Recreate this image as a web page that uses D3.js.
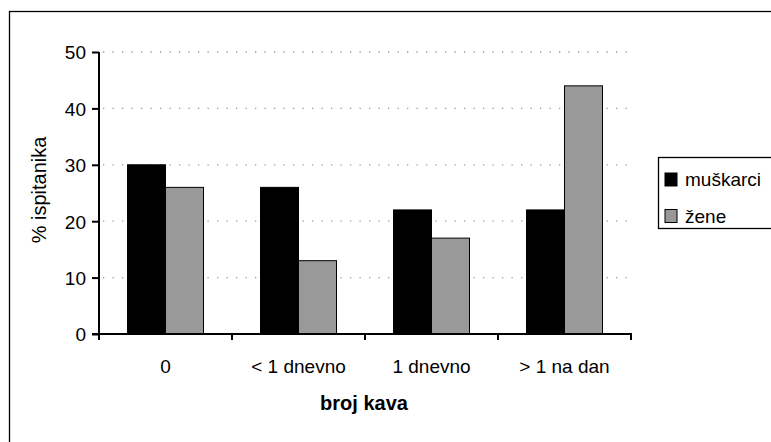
<!DOCTYPE html>
<html>
<head>
<meta charset="utf-8">
<script src="https://cdn.jsdelivr.net/npm/d3@7"></script>
<style>
  body { margin: 0; background: #fff; }
  text { font-family: "Liberation Sans", Arial, sans-serif; fill: #000; }
</style>
</head>
<body>
<div id="chart"></div>
<script>
var categories = ["0", "< 1 dnevno", "1 dnevno", "> 1 na dan"];
var seriesNames = ["muškarci", "žene"];
var muskarci = [30, 26, 22, 22];
var zene = [26, 13, 17, 44];
var yTicks = [0, 10, 20, 30, 40, 50];

var colors = ["#000000", "#999999"];

var svg = d3.select("#chart").append("svg")
  .attr("width", 771)
  .attr("height", 442);

// outer frame (runs past the right / bottom edge)
svg.append("rect")
  .attr("x", 9.5).attr("y", 11.5)
  .attr("width", 800).attr("height", 500)
  .attr("fill", "#fff")
  .attr("stroke", "#000")
  .attr("stroke-width", 1.3);

var margin = {left: 99, top: 52},
    width = 532, height = 282;

var x = d3.scaleBand().domain(categories).range([0, width]);
var y = d3.scaleLinear().domain([0, 50]).range([height, 0]);

var g = svg.append("g")
  .attr("transform", "translate(" + margin.left + "," + margin.top + ")");

// dotted grid
g.selectAll("line.grid")
  .data(yTicks.filter(function(d) { return d > 0; }))
  .enter().append("line")
  .attr("class", "grid")
  .attr("x1", 4).attr("x2", width)
  .attr("y1", function(d) { return y(d); })
  .attr("y2", function(d) { return y(d); })
  .attr("stroke", "#999")
  .attr("stroke-width", 1.3)
  .attr("stroke-dasharray", "1.3,8.2");

// bars
var barW = 38;
var data = categories.map(function(c, i) {
  return [muskarci[i], zene[i]];
});
var groups = g.selectAll("g.cat")
  .data(data)
  .enter().append("g")
  .attr("transform", function(d, i) {
    return "translate(" + (x(categories[i]) + (x.bandwidth() - 2 * barW) / 2) + ",0)";
  });

groups.selectAll("rect")
  .data(function(d) { return d; })
  .enter().append("rect")
  .attr("x", function(d, j) { return j * barW; })
  .attr("y", function(d) { return y(d); })
  .attr("width", barW)
  .attr("height", function(d) { return height - y(d); })
  .attr("fill", function(d, j) { return colors[j]; })
  .attr("stroke", "#000")
  .attr("stroke-width", 1);

// y axis
var yAxis = d3.axisLeft(y).tickValues(yTicks).tickSize(7).tickPadding(6);
var yG = g.append("g").call(yAxis);
yG.select(".domain").attr("stroke-width", 2).attr("d", "M0," + height + "V0");
yG.selectAll(".tick line").attr("stroke-width", 2);
yG.selectAll(".tick text").style("font-size", "19px").attr("dy", "0.36em");

// x axis with ticks at category boundaries
var xG = g.append("g").attr("transform", "translate(0," + height + ")");
xG.append("line")
  .attr("x1", -7).attr("x2", width + 1)
  .attr("stroke", "#000").attr("stroke-width", 2);
var bounds = categories.map(function(c) { return x(c); }).concat([width]);
xG.selectAll("line.tk")
  .data(bounds)
  .enter().append("line")
  .attr("class", "tk")
  .attr("x1", function(d) { return d; })
  .attr("x2", function(d) { return d; })
  .attr("y1", 0).attr("y2", 6)
  .attr("stroke", "#000").attr("stroke-width", 2);
xG.selectAll("text.cat")
  .data(categories)
  .enter().append("text")
  .attr("class", "cat")
  .attr("x", function(d) { return x(d) + x.bandwidth() / 2; })
  .attr("y", 39)
  .attr("text-anchor", "middle")
  .style("font-size", "19px")
  .text(function(d) { return d; });

// axis titles
svg.append("text")
  .attr("x", 364).attr("y", 410)
  .attr("text-anchor", "middle")
  .style("font-size", "20px")
  .style("font-weight", "bold")
  .text("broj kava");

svg.append("text")
  .attr("transform", "translate(46,190)rotate(-90)")
  .attr("text-anchor", "middle")
  .style("font-size", "20px")
  .text("% ispitanika");

// legend
var legend = svg.append("g").attr("transform", "translate(658,157)");
legend.append("rect")
  .attr("x", 0.5).attr("y", 0.5)
  .attr("width", 140).attr("height", 71)
  .attr("fill", "#fff").attr("stroke", "#000").attr("stroke-width", 1.3);
var items = legend.selectAll("g.item")
  .data(seriesNames)
  .enter().append("g")
  .attr("transform", function(d, i) { return "translate(7," + (16 + i * 36.5) + ")"; });
items.append("rect")
  .attr("width", 12).attr("height", 13)
  .attr("fill", function(d, i) { return colors[i]; })
  .attr("stroke", "#000").attr("stroke-width", 1);
items.append("text")
  .attr("x", 20).attr("y", 13)
  .style("font-size", "19px")
  .text(function(d) { return d; });
</script>
</body>
</html>
